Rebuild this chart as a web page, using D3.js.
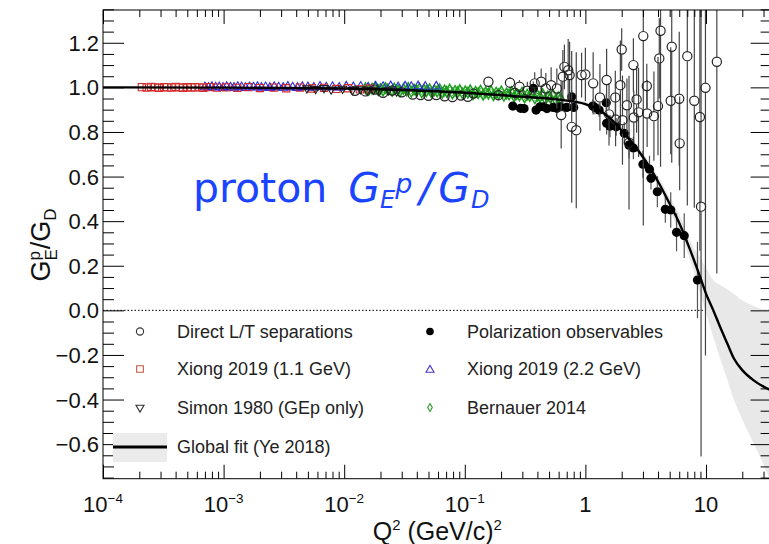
<!DOCTYPE html>
<html>
<head>
<meta charset="utf-8">
<script src="https://cdn.jsdelivr.net/npm/d3@7"></script>
<style>
body { margin: 0; background: #fff; }
svg { display: block; font-family: "Liberation Sans", Arial, Helvetica, sans-serif; }
</style>
</head>
<body>
<svg id="chart" width="769" height="544"></svg>
<script>
// ---- values ----
// global fit (Ye 2018) and its error band
const fitQ2  = [1e-4, 1e-3, 0.01, 0.03, 0.1, 0.3, 0.6, 1.0, 1.3, 1.6, 2.0, 2.5, 3.0, 4.0, 5.0, 6.0, 7.5, 9.0, 10, 11.5, 13, 15, 17, 20, 25, 30, 35];
const fitVal = [1.000, 0.999, 0.995, 0.988, 0.976, 0.958, 0.945, 0.925, 0.898, 0.862, 0.806, 0.745, 0.688, 0.578, 0.478, 0.392, 0.262, 0.145, 0.075, 0.0, -0.07, -0.148, -0.215, -0.268, -0.315, -0.342, -0.36];
const bandLo = [0.998, 0.997, 0.993, 0.985, 0.972, 0.953, 0.938, 0.915, 0.886, 0.848, 0.792, 0.729, 0.670, 0.555, 0.448, 0.352, 0.215, 0.07, -0.01, -0.12, -0.21, -0.31, -0.40, -0.49, -0.60, -0.69, -0.78];
const bandHi = [1.002, 1.001, 0.997, 0.991, 0.980, 0.963, 0.952, 0.935, 0.910, 0.876, 0.820, 0.761, 0.706, 0.601, 0.508, 0.432, 0.305, 0.23, 0.19, 0.135, 0.115, 0.095, 0.075, 0.045, 0.02, 0.005, 0.0];

// Direct L/T separations (open circles)
const ltQ2  = [0.0123, 0.015, 0.018, 0.021, 0.025, 0.030, 0.037, 0.043, 0.050, 0.058, 0.068, 0.079, 0.093, 0.106, 0.118, 0.157, 0.19, 0.237, 0.26, 0.284, 0.33, 0.38, 0.43, 0.47, 0.52, 0.58, 0.63, 0.65, 0.67, 0.72, 0.74, 0.77, 0.84, 0.93, 1.0, 1.16, 1.32, 1.5, 1.57, 1.77, 1.78, 1.95, 2.0, 2.03, 2.21, 2.3, 2.5, 2.52, 2.66, 2.76, 3.02, 3.23, 3.25, 3.7, 4.0, 4.1, 4.2, 5.1, 5.2, 6.0, 6.05, 7.0, 8.0, 8.9, 9.1, 9.9, 12.3];
const ltVal = [0.985, 0.982, 0.990, 0.976, 0.986, 0.978, 0.968, 0.966, 0.962, 0.966, 0.960, 0.957, 0.963, 0.958, 0.972, 1.025, 0.965, 1.021, 0.975, 1.003, 0.985, 1.018, 1.025, 0.995, 1.010, 0.995, 0.876, 1.048, 1.092, 1.077, 1.055, 0.823, 0.808, 1.055, 1.058, 1.018, 0.955, 1.033, 0.879, 0.955, 0.856, 1.010, 1.170, 0.853, 0.920, 0.752, 1.100, 0.865, 0.946, 0.888, 1.230, 1.006, 0.883, 0.871, 0.916, 1.130, 1.254, 0.940, 1.182, 0.949, 0.749, 1.140, 0.940, 0.867, 0.465, 0.998, 1.115];
const ltErr = [0.012, 0.012, 0.012, 0.012, 0.010, 0.010, 0.010, 0.010, 0.010, 0.010, 0.012, 0.012, 0.012, 0.015, 0.015, 0.020, 0.020, 0.025, 0.030, 0.030, 0.040, 0.050, 0.060, 0.070, 0.080, 0.090, 0.150, 0.120, 0.100, 0.140, 0.150, 0.340, 0.350, 0.100, 0.120, 0.140, 0.150, 0.140, 0.140, 0.120, 0.120, 0.200, 0.095, 0.200, 0.120, 0.300, 0.120, 0.120, 0.150, 0.200, 0.850, 0.100, 0.150, 0.200, 0.220, 0.180, 0.610, 0.240, 0.520, 0.300, 0.210, 0.670, 0.480, 0.600, 1.120, 1.200, 0.950];

// Polarization observables (filled circles)
const polQ2  = [0.25, 0.29, 0.31, 0.37, 0.39, 0.42, 0.45, 0.48, 0.54, 0.58, 0.62, 0.70, 0.77, 0.80, 1.15, 1.2, 1.3, 1.49, 1.50, 1.6, 1.8, 2.1, 2.3, 2.5, 3.0, 3.4, 3.5, 3.95, 4.6, 5.1, 5.7, 6.6, 8.5];
const polVal = [0.916, 0.906, 0.905, 0.996, 0.898, 0.913, 0.913, 0.905, 0.910, 0.906, 0.913, 0.910, 0.958, 0.910, 0.916, 0.910, 0.898, 0.931, 0.839, 0.826, 0.823, 0.794, 0.741, 0.728, 0.655, 0.633, 0.592, 0.532, 0.453, 0.450, 0.350, 0.335, 0.136];
const polErr = [0.02, 0.02, 0.02, 0.03, 0.02, 0.02, 0.02, 0.02, 0.02, 0.02, 0.02, 0.02, 0.03, 0.02, 0.03, 0.03, 0.03, 0.04, 0.05, 0.05, 0.04, 0.05, 0.06, 0.05, 0.06, 0.06, 0.05, 0.07, 0.06, 0.08, 0.085, 0.10, 0.17];

// Xiong 2019, 1.1 GeV (red squares)
const x11Q2  = [2.1e-4, 2.3e-4, 2.5e-4, 2.7e-4, 2.9e-4, 3.2e-4, 3.4e-4, 3.7e-4, 4.0e-4, 4.3e-4, 4.6e-4, 5.0e-4, 5.4e-4, 5.8e-4, 6.3e-4, 6.8e-4, 7.6e-4, 8.8e-4, 1.05e-3, 1.3e-3, 1.6e-3, 2.0e-3, 2.6e-3, 3.3e-3, 4.3e-3, 5.4e-3, 6.8e-3, 8.6e-3, 0.0108, 0.0135, 0.0162];
const x11Val = [1.001, 0.999, 1.002, 1.000, 0.998, 1.001, 1.000, 0.999, 1.002, 1.000, 0.998, 1.001, 0.999, 1.001, 1.000, 0.998, 1.001, 0.999, 1.000, 0.998, 1.001, 0.997, 0.999, 0.996, 0.999, 0.995, 0.998, 0.993, 0.996, 0.991, 0.994];

// Xiong 2019, 2.2 GeV (blue triangles)
const x22Q2  = [7.0e-4, 7.5e-4, 8.0e-4, 8.6e-4, 9.2e-4, 9.9e-4, 1.06e-3, 1.14e-3, 1.22e-3, 1.31e-3, 1.41e-3, 1.52e-3, 1.64e-3, 1.77e-3, 1.91e-3, 2.06e-3, 2.23e-3, 2.42e-3, 2.63e-3, 2.86e-3, 3.12e-3, 3.41e-3, 3.74e-3, 4.1e-3, 4.5e-3, 5.0e-3, 5.6e-3, 6.3e-3, 7.1e-3, 8.0e-3, 9.1e-3, 0.0104, 0.0119, 0.0137, 0.0158, 0.0182, 0.021, 0.0243, 0.028, 0.032, 0.036, 0.041, 0.047, 0.058];
const x22Val = [1.001, 0.999, 1.002, 1.000, 1.001, 0.998, 1.002, 1.000, 0.999, 1.002, 1.001, 0.998, 1.001, 1.000, 1.002, 0.999, 1.001, 0.998, 1.002, 1.000, 0.999, 1.003, 1.000, 0.998, 1.002, 1.001, 0.999, 1.003, 1.000, 1.002, 0.999, 1.004, 1.001, 1.003, 1.000, 1.004, 1.002, 1.005, 1.001, 1.004, 1.002, 1.005, 1.003, 1.004];

// Simon 1980 (black down triangles)
const simQ2  = [0.0049, 0.0058, 0.0068, 0.0078, 0.0097, 0.0117, 0.0136, 0.0155, 0.0175, 0.0194, 0.0233, 0.0272];
const simVal = [0.996, 0.993, 0.997, 0.991, 0.994, 0.988, 0.992, 0.986, 0.990, 0.984, 0.987, 0.982];

// Bernauer 2014 (green diamonds)
const berQ2  = [0.015, 0.016, 0.017, 0.018, 0.019, 0.020, 0.021, 0.022, 0.023, 0.025, 0.026, 0.028, 0.029, 0.031, 0.033, 0.034, 0.036, 0.038, 0.040, 0.042, 0.044, 0.046, 0.048, 0.051, 0.053, 0.056, 0.059, 0.062, 0.065, 0.068, 0.071, 0.075, 0.079, 0.083, 0.087, 0.091, 0.096, 0.101, 0.106, 0.111, 0.117, 0.123, 0.129, 0.135, 0.142, 0.149, 0.157, 0.165, 0.173, 0.182, 0.191, 0.201, 0.211, 0.222, 0.233, 0.245, 0.257, 0.270, 0.284, 0.298, 0.313, 0.329, 0.346, 0.363, 0.381, 0.401, 0.421, 0.442, 0.465, 0.488, 0.513, 0.539, 0.566, 0.595, 0.625];
const berVal = [0.996, 0.989, 0.994, 0.999, 0.990, 0.993, 0.986, 0.997, 0.991, 0.984, 0.995, 0.988, 0.982, 0.993, 0.986, 0.997, 0.980, 0.990, 0.985, 0.994, 0.978, 0.989, 0.983, 0.992, 0.977, 0.987, 0.982, 0.991, 0.975, 0.986, 0.980, 0.990, 0.973, 0.984, 0.978, 0.988, 0.972, 0.982, 0.976, 0.987, 0.969, 0.980, 0.974, 0.985, 0.967, 0.978, 0.972, 0.983, 0.965, 0.976, 0.970, 0.981, 0.962, 0.973, 0.968, 0.979, 0.959, 0.970, 0.964, 0.976, 0.955, 0.967, 0.961, 0.973, 0.951, 0.964, 0.957, 0.970, 0.947, 0.960, 0.953, 0.966, 0.943, 0.956, 0.950];
const berErr = 0.011;

// axis ticks and legend
const xMajor = [1e-4, 1e-3, 1e-2, 1e-1, 1, 10];
const xLabels = [["10", "\u22124"], ["10", "\u22123"], ["10", "\u22122"], ["10", "\u22121"], ["1", ""], ["10", ""]];
const yMajor = [-0.6, -0.4, -0.2, 0.0, 0.2, 0.4, 0.6, 0.8, 1.0, 1.2];
const legendLabels = ["Direct L/T separations", "Polarization observables", "Xiong 2019 (1.1 GeV)", "Xiong 2019 (2.2 GeV)", "Simon 1980 (GEp only)", "Bernauer 2014", "Global fit (Ye 2018)"];

// ---- layout ----
const padLeft = 103, padRight = 771.6, padTop = 10, padBottom = 478.7;

const x = d3.scaleLog().domain([1e-4, 35]).range([padLeft, padRight]);
const y = d3.scaleLinear().domain([-0.755, 1.347]).range([padBottom, padTop]);

const svg = d3.select("#chart");

svg.append("defs").append("clipPath").attr("id", "plotClip")
    .append("rect")
    .attr("x", padLeft).attr("y", padTop)
    .attr("width", padRight - padLeft).attr("height", padBottom - padTop);

const plot = svg.append("g").attr("clip-path", "url(#plotClip)");

const fitData = fitQ2.map((q, i) => ({ q: q, v: fitVal[i], lo: bandLo[i], hi: bandHi[i] }));

// dotted zero line
plot.append("line")
    .attr("x1", padLeft).attr("x2", padRight)
    .attr("y1", y(0)).attr("y2", y(0))
    .attr("stroke", "#000").attr("stroke-width", 1)
    .attr("stroke-dasharray", "1.5,2");

// error band of the fit
plot.append("path")
    .datum(fitData)
    .attr("fill", "#e8e8e8")
    .attr("d", d3.area()
        .x(d => x(d.q))
        .y0(d => y(d.lo))
        .y1(d => y(d.hi))
        .curve(d3.curveMonotoneX));

// error bars, skipping the marker itself
function errorBars(g, q, v, e, r, color) {
    const rows = q.map((d, i) => ({ q: d, v: v[i], e: Array.isArray(e) ? e[i] : e }));
    g.selectAll(null).data(rows).enter().append("path")
        .attr("d", d => {
            const cx = x(d.q), cy = y(d.v);
            const y1 = y(d.v + d.e), y2 = y(d.v - d.e);
            let p = "";
            if (cy - r > y1) p += `M${cx},${y1}V${cy - r}`;
            if (cy + r < y2) p += `M${cx},${cy + r}V${y2}`;
            return p || null;
        })
        .attr("stroke", color).attr("stroke-width", 1.2).attr("fill", "none");
}

function symbols(g, q, v, type, size, stroke, fill, rot, sw) {
    g.selectAll(null).data(q.map((d, i) => ({ q: d, v: v[i] }))).enter().append("path")
        .attr("transform", d => `translate(${x(d.q)},${y(d.v)}) rotate(${rot || 0})`)
        .attr("d", d3.symbol().type(type).size(size))
        .attr("fill", fill).attr("stroke", stroke).attr("stroke-width", sw || 1.1);
}

// Bernauer
errorBars(plot, berQ2, berVal, berErr, 1.5, "#2aa52a");
symbols(plot, berQ2, berVal, d3.symbolDiamond, 32, "#1e9e1e", "none", 0, 1.5);
// Xiong 2.2 GeV
symbols(plot, x22Q2, x22Val, d3.symbolTriangle, 34, "#2b2bd9", "none");
// Xiong 1.1 GeV
symbols(plot, x11Q2, x11Val, d3.symbolSquare, 52, "#d32a2a", "none");
// Simon
symbols(plot, simQ2, simVal, d3.symbolTriangle, 30, "#222", "none", 180);

// polarization
errorBars(plot, polQ2, polVal, polErr, 4.5, "#555");
plot.selectAll(".pol").data(polQ2.map((d, i) => ({ q: d, v: polVal[i] }))).enter().append("circle")
    .attr("class", "pol")
    .attr("cx", d => x(d.q)).attr("cy", d => y(d.v)).attr("r", 4.6)
    .attr("fill", "#000");

// direct L/T
errorBars(plot, ltQ2, ltVal, ltErr, 5, "#444");
plot.selectAll(".lt").data(ltQ2.map((d, i) => ({ q: d, v: ltVal[i] }))).enter().append("circle")
    .attr("class", "lt")
    .attr("cx", d => x(d.q)).attr("cy", d => y(d.v)).attr("r", 4.6)
    .attr("fill", "none").attr("stroke", "#222").attr("stroke-width", 1.2);

// the fit curve
plot.append("path")
    .datum(fitData)
    .attr("fill", "none").attr("stroke", "#000").attr("stroke-width", 2.4)
    .attr("d", d3.line().x(d => x(d.q)).y(d => y(d.v)).curve(d3.curveMonotoneX));

// ---- axes ----
const xMinor = [];
for (let e = -4; e <= 1; e++) for (let k = 2; k <= 9; k++) {
    const val = k * Math.pow(10, e);
    if (val < 35) xMinor.push(val);
}
const yMinor = d3.range(-0.75, 1.351, 0.05).filter(v => !yMajor.some(m => Math.abs(m - v) < 1e-6));

function drawAxis(axis, tx, ty) {
    const g = svg.append("g").attr("transform", `translate(${tx},${ty})`).call(axis);
    g.select(".domain").remove();
    g.selectAll("line").attr("stroke", "#000").attr("stroke-width", 1);
    g.selectAll("text").remove();
}
drawAxis(d3.axisBottom(x).tickValues(xMajor).tickSizeInner(-14).tickSizeOuter(0), 0, padBottom);
drawAxis(d3.axisBottom(x).tickValues(xMinor).tickSizeInner(-7).tickSizeOuter(0), 0, padBottom);
drawAxis(d3.axisTop(x).tickValues(xMajor).tickSizeInner(-14).tickSizeOuter(0), 0, padTop);
drawAxis(d3.axisTop(x).tickValues(xMinor).tickSizeInner(-7).tickSizeOuter(0), 0, padTop);
drawAxis(d3.axisLeft(y).tickValues(yMajor).tickSizeInner(-21).tickSizeOuter(0), padLeft, 0);
drawAxis(d3.axisLeft(y).tickValues(yMinor).tickSizeInner(-11).tickSizeOuter(0), padLeft, 0);
drawAxis(d3.axisRight(y).tickValues(yMajor).tickSizeInner(-21).tickSizeOuter(0), padRight, 0);
drawAxis(d3.axisRight(y).tickValues(yMinor).tickSizeInner(-11).tickSizeOuter(0), padRight, 0);

svg.append("rect")
    .attr("x", padLeft).attr("y", padTop)
    .attr("width", padRight - padLeft).attr("height", padBottom - padTop)
    .attr("fill", "none").attr("stroke", "#000").attr("stroke-width", 1);

// tick labels
svg.selectAll(".ylab").data(yMajor).enter().append("text")
    .attr("class", "ylab")
    .attr("x", 99).attr("y", d => y(d) + 8)
    .attr("text-anchor", "end")
    .attr("font-size", 22).attr("fill", "#111")
    .text(d => (d < 0 ? "\u2212" : "") + Math.abs(d).toFixed(1));

const xl = svg.selectAll(".xlab").data(xMajor).enter().append("text")
    .attr("class", "xlab")
    .attr("x", d => x(d)).attr("y", 512)
    .attr("text-anchor", "middle")
    .attr("font-size", 22).attr("fill", "#111");
xl.append("tspan").text((d, i) => xLabels[i][0]);
xl.append("tspan").attr("dy", -9).attr("font-size", 13.5).text((d, i) => xLabels[i][1]);

// axis titles
const xt = svg.append("text")
    .attr("x", (padLeft + padRight) / 2).attr("y", 540)
    .attr("text-anchor", "middle").attr("font-size", 25).attr("fill", "#111");
xt.append("tspan").text("Q");
xt.append("tspan").attr("dy", -10).attr("font-size", 15).text("2");
xt.append("tspan").attr("dy", 10).text(" (GeV/c)");
xt.append("tspan").attr("dy", -10).attr("font-size", 15).text("2");

const yt = svg.append("text")
    .attr("transform", "translate(50,245) rotate(-90)")
    .attr("text-anchor", "middle").attr("font-size", 27).attr("fill", "#111");
yt.append("tspan").text("G");
yt.append("tspan").attr("dy", -10).attr("font-size", 17).text("p");
yt.append("tspan").attr("dx", -9.5).attr("dy", 17).attr("font-size", 17).text("E");
yt.append("tspan").attr("dy", -7).text("/G");
yt.append("tspan").attr("dy", 6).attr("font-size", 17).text("D");

// big blue label
const bl = svg.append("text")
    .attr("x", 193).attr("y", 202)
    .attr("font-family", "'DejaVu Sans', 'Noto Sans', sans-serif")
    .attr("font-size", 41).attr("fill", "#1a44ff");
bl.append("tspan").text("proton");
bl.append("tspan").attr("dx", 21).attr("font-style", "italic").text("G");
bl.append("tspan").attr("font-style", "italic").attr("font-size", 24).attr("dy", 6).text("E");
bl.append("tspan").attr("font-style", "italic").attr("font-size", 27).attr("dy", -15).text("p");
bl.append("tspan").attr("dx", 7).attr("dy", 9).attr("font-style", "italic").text("/");
bl.append("tspan").attr("dx", 5).attr("font-style", "italic").text("G");
bl.append("tspan").attr("dx", 1).attr("font-style", "italic").attr("font-size", 24).attr("dy", 6).text("D");

// ---- legend ----
const legend = svg.append("g");
const rowsY = [331.5, 369, 407.5, 447];
const colX = [140, 430];
const textX = [177, 467];

function legendText(col, row, label) {
    legend.append("text")
        .attr("x", textX[col]).attr("y", rowsY[row] + 6.3)
        .attr("font-size", 18).attr("fill", "#222")
        .text(label);
}

legend.append("circle").attr("cx", colX[0]).attr("cy", rowsY[0]).attr("r", 3.6)
    .attr("fill", "none").attr("stroke", "#333").attr("stroke-width", 1.1);
legendText(0, 0, legendLabels[0]);
legend.append("circle").attr("cx", colX[1]).attr("cy", rowsY[0]).attr("r", 3.8).attr("fill", "#000");
legendText(1, 0, legendLabels[1]);
legend.append("path").attr("transform", `translate(${colX[0]},${rowsY[1]})`)
    .attr("d", d3.symbol().type(d3.symbolSquare).size(44))
    .attr("fill", "none").attr("stroke", "#c4553f").attr("stroke-width", 1.1);
legendText(0, 1, legendLabels[2]);
legend.append("path").attr("transform", `translate(${colX[1]},${rowsY[1] + 1})`)
    .attr("d", d3.symbol().type(d3.symbolTriangle).size(28))
    .attr("fill", "none").attr("stroke", "#4a3ad0").attr("stroke-width", 1.1);
legendText(1, 1, legendLabels[3]);
legend.append("path").attr("transform", `translate(${colX[0]},${rowsY[2]}) rotate(180)`)
    .attr("d", d3.symbol().type(d3.symbolTriangle).size(28))
    .attr("fill", "none").attr("stroke", "#333").attr("stroke-width", 1.1);
legendText(0, 2, legendLabels[4]);
legend.append("path").attr("transform", `translate(${colX[1]},${rowsY[2]})`)
    .attr("d", d3.symbol().type(d3.symbolDiamond).size(18))
    .attr("fill", "none").attr("stroke", "#2a9a2a").attr("stroke-width", 1.1);
legendText(1, 2, legendLabels[5]);
legend.append("rect").attr("x", 113).attr("y", rowsY[3] - 14).attr("width", 54).attr("height", 29)
    .attr("fill", "#ebebeb");
legend.append("line").attr("x1", 113).attr("x2", 167).attr("y1", rowsY[3]).attr("y2", rowsY[3])
    .attr("stroke", "#000").attr("stroke-width", 3);
legendText(0, 3, legendLabels[6]);
</script>
</body>
</html>
